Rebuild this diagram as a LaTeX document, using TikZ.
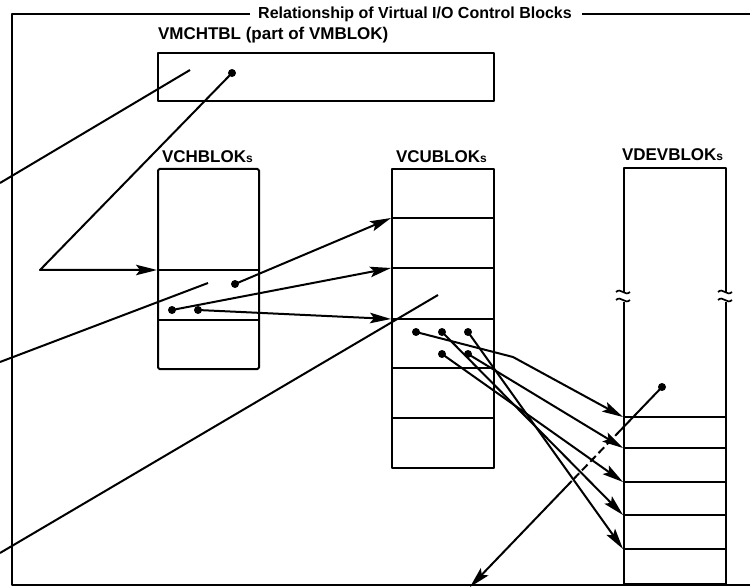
\documentclass[tikz,border=0pt]{standalone}
\usepackage{fontspec}
\setmainfont{Liberation Sans}
\usetikzlibrary{arrows.meta,calc}
\begin{document}
\begin{tikzpicture}[x=1pt,y=-1pt,line width=2pt,line join=round,
  ptr/.style={-{Stealth[length=21pt,width=10.5pt,inset=4pt]}},
  dotc/.style={fill=black,circle,inner sep=0pt,minimum size=8pt},
  lbl/.style={font=\bfseries\fontsize{17}{19}\selectfont,anchor=base west,inner sep=0pt},
  blk/.style={draw,inner sep=0pt,anchor=north west},
  brk/.style={line width=1.7pt}]
\useasboundingbox (0,0) rectangle (750,588);
% frame
\node[font=\bfseries\fontsize{16}{18}\selectfont,anchor=base,inner sep=0pt] (title) at (415,19) {Relationship of Virtual I/O Control Blocks};
\coordinate (fa) at (250,14);
\coordinate (fb) at (12,14);
\coordinate (fc) at (12,585);
\coordinate (fd) at (750,585);
\coordinate (fe) at (582,14);
\coordinate (ff) at (750,14);
\draw (fa) -- (fb) -- (fc) -- (fd);
\draw (fe) -- (ff);
% labels
\node[lbl] (lvmch) at (157,40) {VMCHTBL (part of VMBLOK)};
\node[lbl] (lvch) at (161,163) {VCHBLOK{\fontsize{12}{14}\selectfont s}};
\node[lbl] (lvcu) at (395,163) {VCUBLOK{\fontsize{12}{14}\selectfont s}};
\node[lbl] (lvdev) at (621,161) {VDEVBLOK{\fontsize{12}{14}\selectfont s}};
% boxes
\node[blk,minimum width=336pt,minimum height=48pt] (vmch) at (157,52) {};
\node[blk,minimum width=101pt,minimum height=200pt,rounded corners=1.5pt] (vch) at (157,168) {};
\node[blk,minimum width=102pt,minimum height=299pt] (vcu) at (391,168) {};
\node[blk,minimum width=102pt,minimum height=416pt] (vdev) at (623,167) {};
% dividers
\foreach \y in {270,320} \draw (157,\y) -- (258,\y);
\foreach \y in {218,268,319,368,418} \draw (391,\y) -- (493,\y);
\foreach \y in {417,448,482,515,549} \draw (623,\y) -- (725,\y);
% break marks on VDEVBLOKs
\foreach \x in {623,725}{
  \fill[white] (\x-3,292) rectangle (\x+3,302);
  \draw[brk] (\x-7,292) .. controls (\x-2,287) and (\x+2,297) .. (\x+7,292);
  \draw[brk] (\x-7,300) .. controls (\x-2,295) and (\x+2,305) .. (\x+7,300);
}
% points
\coordinate (m1) at (190,70);
\coordinate (m1e) at (0,183);
\node[dotc] (m2) at (232,73) {};
\coordinate (k1) at (40,270);
\coordinate (vchin) at (157,270);
\node[dotc] (h1) at (235,284) {};
\node[dotc] (h2) at (172,310) {};
\node[dotc] (h3) at (198,310) {};
\coordinate (h4) at (208,283);
\coordinate (h4e) at (0,362);
\coordinate (cu1) at (391,218);
\coordinate (cu2) at (391,268);
\coordinate (cu3) at (391,319);
\coordinate (u0) at (438,295);
\coordinate (u0e) at (0,553);
\node[dotc] (u1) at (416,332) {};
\node[dotc] (u2) at (442,332) {};
\node[dotc] (u3) at (468,332) {};
\node[dotc] (u4) at (442,354) {};
\node[dotc] (u5) at (468,354) {};
\coordinate (ub) at (513,357);
\coordinate (dv1) at (623,417);
\coordinate (dv2) at (623,448);
\coordinate (dv3) at (623,482);
\coordinate (dv4) at (623,515);
\coordinate (dv5) at (623,549);
\node[dotc] (v1) at (662,387) {};
\coordinate (ve) at (470,587);
% connectors
\draw (m1) -- (m1e);
\draw[ptr] (m2.center) -- (k1) -- (vchin);
\draw[ptr] (h1.center) -- (cu1);
\draw[ptr] (h2.center) -- (cu2);
\draw[ptr] (h3.center) -- (cu3);
\draw (h4) -- (h4e);
\draw (u0) -- (u0e);
\draw[ptr] (u1.center) -- (ub) -- (dv1);
\draw[ptr] (u2.center) -- (dv4);
\draw[ptr] (u3.center) -- (dv5);
\draw[ptr] (u4.center) -- (dv3);
\draw[ptr] (u5.center) -- (dv2);
\coordinate (va) at ($(v1)!0.215!(ve)$);
\coordinate (vb) at ($(v1)!0.47!(ve)$);
\draw (v1.center) -- (va);
\draw[dash pattern=on 8pt off 4pt] (va) -- (vb);
\draw[ptr] (vb) -- (ve);
\end{tikzpicture}
\end{document}
